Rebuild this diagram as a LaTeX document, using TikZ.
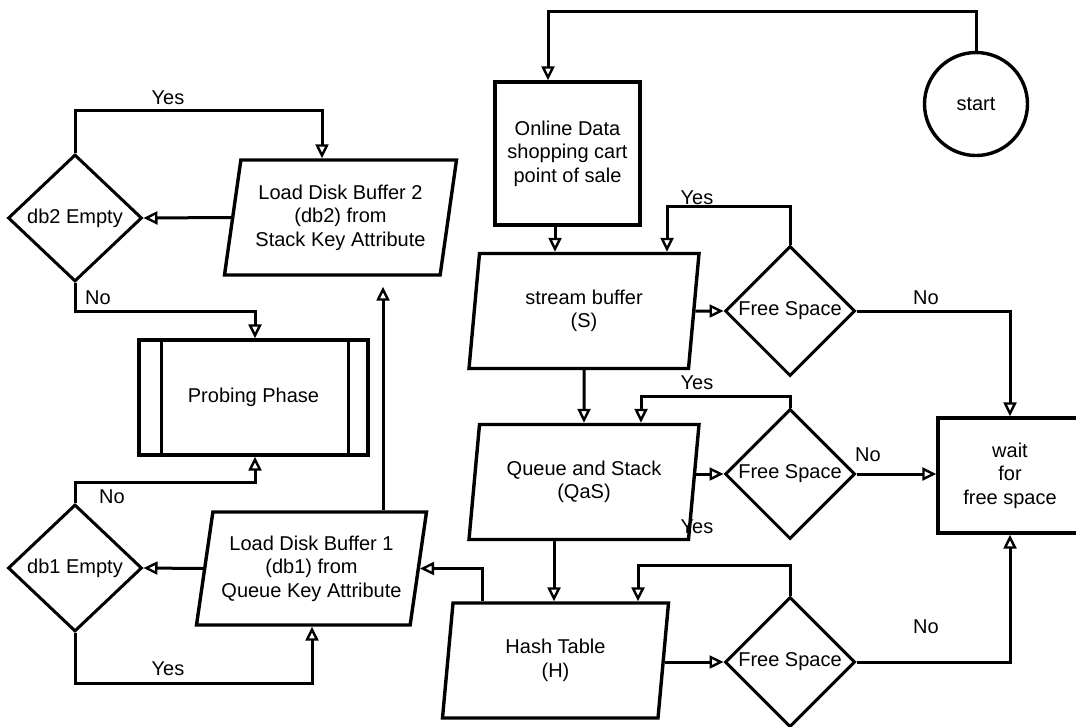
\documentclass[tikz,border=0pt]{standalone}
\usepackage{fontspec}
\setmainfont{Liberation Sans}
\usetikzlibrary{arrows.meta,positioning,shapes.geometric,calc}

\begin{document}
\begin{tikzpicture}[
    x=1pt, y=-1pt,
    font=\fontsize{20}{23.5}\selectfont,
    line width=3pt,
    para/.style={trapezium, trapezium left angle=76, trapezium right angle=104, trapezium stretches body, draw, line width=3.4pt, minimum width=230pt, minimum height=115pt, inner sep=0pt, align=center},
    dec/.style={diamond, draw, line width=3pt, minimum width=130pt, minimum height=130pt, inner sep=0pt, align=center},
    box/.style={rectangle, draw, line width=3.4pt, align=center},
    lbl/.style={inner sep=1pt},
    arrow/.style={-{Triangle[open,length=14pt,width=13pt,line width=2.4pt]}, line width=3pt}
]
\useasboundingbox (0,0) rectangle (1076,726);

% right column
\node[circle, draw, line width=3.4pt, minimum size=103pt, inner sep=0pt] (start) at (976,104) {start};
\node[box, minimum width=145pt, minimum height=143pt] (online) at (567.5,153.5) {Online Data\\shopping cart\\point of sale};
\node[para] (stream) at (584,311) {stream buffer\\(S)};
\node[para] (qas) at (584,482) {Queue and Stack\\(QaS)};
\node[para, minimum width=226pt] (hash) at (555.5,660.5) {Hash Table\\(H)};
\node[dec] (fs1) at (790,311) {Free Space};
\node[dec] (fs2) at (790,474) {Free Space};
\node[dec] (fs3) at (790,662) {Free Space};
\node[box, minimum width=144pt, minimum height=115pt] (wait) at (1010,475.5) {wait\\for\\free space};

% left column
\node[para, minimum width=232pt] (ldb2) at (340.5,217.5) {Load Disk Buffer 2\\(db2) from\\Stack Key Attribute};
\node[para, minimum height=113pt] (ldb1) at (311.5,568.5) {Load Disk Buffer 1\\(db1) from\\Queue Key Attribute};
\node[dec, minimum width=134pt, minimum height=127pt] (db2) at (75,218) {db2 Empty};
\node[dec, minimum width=134pt, minimum height=127pt] (db1) at (75,568) {db1 Empty};
\node[box, minimum width=229pt, minimum height=115pt] (probe) at (253.5,397.5) {Probing Phase};
\draw[line width=3.4pt] ($(probe.north west)+(24,0)$) -- ($(probe.south west)+(24,0)$);
\draw[line width=3.4pt] ($(probe.north east)+(-21,0)$) -- ($(probe.south east)+(-21,0)$);

% connectors
\draw[arrow] (start.north) |- (548,11) -- (online.north -| 548,0);
\draw[arrow] (online.south -| 555,0) -- (stream.north -| 555,0);
\draw[arrow] (stream.east) -- (fs1.west);
\draw[arrow] (fs1.north) -- ++(0,-38) -| (stream.north -| 667,0);
\draw[arrow] (fs1.east) -| (wait.north);
\draw[arrow] (stream.south) -- (qas.north);
\draw[arrow] (qas.east |- fs2.west) -- (fs2.west);
\draw[arrow] (fs2.north) -- ++(0,-11) -| (qas.north -| 641,0);
\draw[arrow] (fs2.east) -- (fs2.east -| wait.west);
\draw[arrow] (qas.south -| 554,0) -- (hash.north -| 554,0);
\draw[arrow] (hash.east |- fs3.west) -- (fs3.west);
\draw[arrow] (fs3.north) -- ++(0,-30) -| (hash.north -| 638,0);
\draw[arrow] (fs3.east) -| (wait.south);
\draw[arrow] (hash.north -| 482,0) |- (ldb1.east);
\draw[arrow, shorten >=10pt] (ldb1.north -| 383,0) -- (ldb2.south -| 383,0);
\draw[arrow] (ldb2.west) -- (db2.east);
\draw[arrow] (db2.north) |- (322,110) -- (ldb2.north -| 322,0);
\draw[arrow] (db2.south) |- (255,311) -- (probe.north -| 255,0);
\draw[arrow] (ldb1.west) -- (db1.east);
\draw[arrow] (db1.north) |- (255,482) -- (probe.south -| 255,0);
\draw[arrow] (db1.south) |- (312,683) -- (ldb1.south -| 312,0);

% labels
\node[lbl] (yes1) at (697,198) {Yes};
\node[lbl] (yes2) at (697,383) {Yes};
\node[lbl] (yes3) at (697,527) {Yes};
\node[lbl] (no1) at (926,298) {No};
\node[lbl] (no2) at (868,455) {No};
\node[lbl] (no3) at (926,627) {No};
\node[lbl] (yes4) at (168,98) {Yes};
\node[lbl] (no4) at (98,298) {No};
\node[lbl] (no5) at (112,497) {No};
\node[lbl] (yes5) at (168,669) {Yes};
\end{tikzpicture}
\end{document}
